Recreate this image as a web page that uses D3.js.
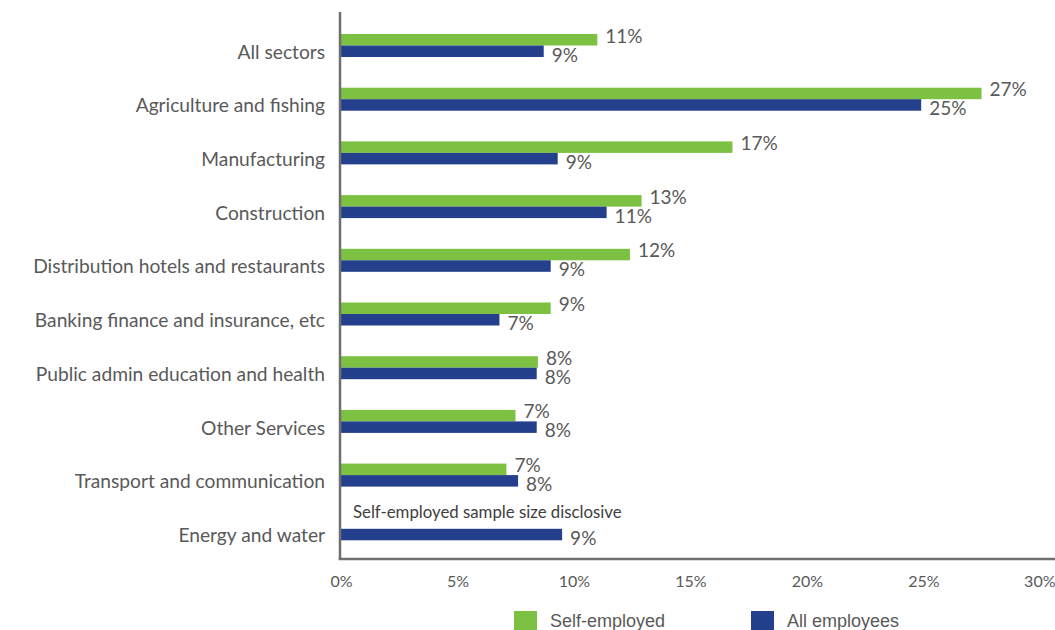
<!DOCTYPE html>
<html>
<head>
<meta charset="utf-8">
<script src="https://cdn.jsdelivr.net/npm/d3@7"></script>
<style>
  html, body { margin: 0; padding: 0; background: #ffffff; }
  svg { display: block; }
</style>
</head>
<body>
<svg id="chart" width="1055" height="630"></svg>
<script>
// Sector categories, top to bottom
const categories = [
  "All sectors",
  "Agriculture and fishing",
  "Manufacturing",
  "Construction",
  "Distribution hotels and restaurants",
  "Banking finance and insurance, etc",
  "Public admin education and health",
  "Other Services",
  "Transport and communication",
  "Energy and water"
];

// Share of workers (%) per sector; null = not published
const selfEmployed = [11.0, 27.49, 16.8, 12.9, 12.4, 9.0, 8.45, 7.49, 7.1, null];
const allEmployees = [8.7, 24.9, 9.3, 11.4, 9.0, 6.8, 8.4, 8.4, 7.6, 9.49];

const seriesNames = ["Self-employed", "All employees"];
const seriesColors = ["#7dc142", "#243f8b"];
const xTicks = [0, 5, 10, 15, 20, 25, 30];
const noteText = "Self-employed sample size disclosive";

const svg = d3.select("#chart");
const labelFont = "Lato, 'Open Sans', sans-serif";
const textColor = "#595959";

const x = d3.scaleLinear().domain([0, 30]).range([341, 1040]);

const step = 53.7, groupH = 23;
const pad = 1 - groupH / step;
const y = d3.scaleBand()
  .domain(categories)
  .range([18.65, 18.65 + step * categories.length])
  .paddingInner(pad)
  .paddingOuter(pad / 2);

const ySub = d3.scaleBand().domain(seriesNames).range([0, y.bandwidth()]);

const rows = categories.map((c, i) => ({
  category: c,
  values: [selfEmployed[i], allEmployees[i]]
}));

// Bars
const groups = svg.append("g").selectAll("g")
  .data(rows)
  .join("g")
  .attr("transform", d => `translate(0,${y(d.category)})`);

groups.selectAll("rect")
  .data(d => d.values.map((v, k) => ({ v, k })).filter(e => e.v != null))
  .join("rect")
  .attr("x", x(0))
  .attr("y", e => ySub(seriesNames[e.k]))
  .attr("width", e => x(e.v) - x(0))
  .attr("height", ySub.bandwidth())
  .attr("fill", e => seriesColors[e.k]);

// Value labels
const fmt = v => Math.round(v) + "%";
groups.selectAll("text.val")
  .data(d => d.values.map((v, k) => ({ v, k })).filter(e => e.v != null))
  .join("text")
  .attr("class", "val")
  .attr("x", e => x(e.v) + 8)
  .attr("y", e => y.bandwidth() / 2 + (e.k === 0 ? -3 : 16))
  .attr("font-family", labelFont)
  .attr("font-size", 19)
  .attr("fill", textColor)
  .text(e => fmt(e.v));

// Note where the self-employed figure is withheld
rows.forEach((d, i) => {
  if (d.values[0] == null) {
    svg.append("text")
      .attr("x", x(0) + 12)
      .attr("y", y(d.category) + ySub.bandwidth() - 11)
      .attr("font-family", labelFont)
      .attr("font-size", 16.8)
      .attr("fill", "#404040")
      .text(noteText);
  }
});

// Category axis
const yAxis = d3.axisLeft(y).tickSize(0).tickPadding(0);
const gy = svg.append("g").attr("transform", "translate(325,0)").call(yAxis);
gy.select(".domain").remove();
gy.selectAll("text")
  .attr("font-family", labelFont)
  .attr("font-size", 19.2)
  .attr("fill", textColor)
  .attr("dy", "0.32em")
  .attr("transform", "translate(0,7)");

// Value axis labels
const xAxis = d3.axisBottom(x).tickValues(xTicks).tickSize(0).tickPadding(0)
  .tickFormat(d => d + "%");
const gx = svg.append("g").attr("transform", "translate(0,576)").call(xAxis);
gx.select(".domain").remove();
gx.selectAll("text")
  .attr("font-family", labelFont)
  .attr("font-size", 16)
  .attr("fill", textColor)
  .attr("dy", "0.71em")
  .attr("text-anchor", d => d === 30 ? "end" : "middle")
  .attr("x", d => d === 30 ? 15 : 0);

// Axis lines
svg.append("line")
  .attr("x1", 340).attr("x2", 340).attr("y1", 12).attr("y2", 560)
  .attr("stroke", "#6f6f6f").attr("stroke-width", 2.5);
svg.append("line")
  .attr("x1", 338.75).attr("x2", 1055).attr("y1", 559).attr("y2", 559)
  .attr("stroke", "#6f6f6f").attr("stroke-width", 2.5);

// Legend
const legendX = [514, 751];
const legend = svg.append("g").selectAll("g")
  .data(seriesNames)
  .join("g")
  .attr("transform", (d, i) => `translate(${legendX[i]},611)`);
legend.append("rect")
  .attr("width", 23).attr("height", 19)
  .attr("fill", (d, i) => seriesColors[i]);
legend.append("text")
  .attr("x", 36).attr("y", 16)
  .attr("font-family", "'Liberation Sans', Arial, sans-serif")
  .attr("font-size", 18)
  .attr("fill", textColor)
  .text(d => d);
</script>
</body>
</html>
